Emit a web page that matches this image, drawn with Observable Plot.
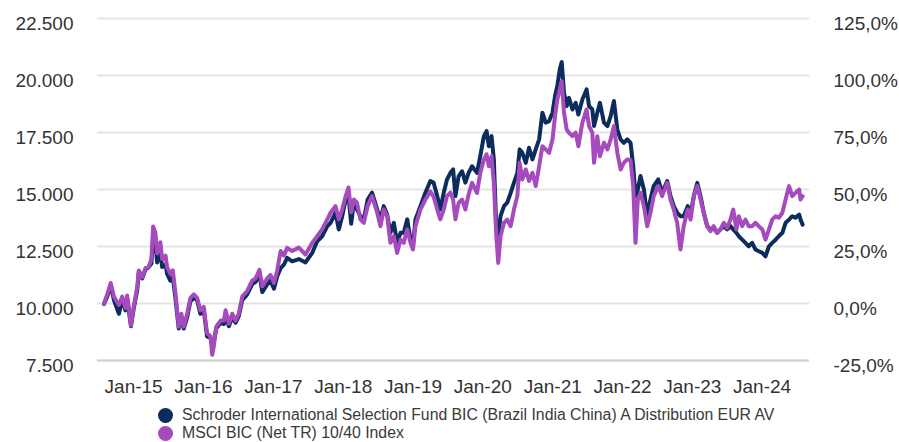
<!DOCTYPE html>
<html><head><meta charset="utf-8">
<script src="https://cdn.jsdelivr.net/npm/d3@7"></script>
<script src="https://cdn.jsdelivr.net/npm/@observablehq/plot@0.6"></script>
<style>
html,body{margin:0;padding:0;background:#fff;overflow:hidden;}
#chart svg{display:block;}
.legend{font-family:"Liberation Sans",Arial,sans-serif;font-size:15.8px;color:#3a3a3a;position:relative;height:42px;}
.row{position:absolute;left:158px;display:flex;align-items:center;height:18px;}
.dot{width:15px;height:15px;border-radius:50%;margin-right:9px;flex:none;}
</style></head><body>
<div id="chart"></div>
<div class="legend" id="legend"></div>
<script>
const seriesNames = ["Schroder International Selection Fund BIC (Brazil India China) A Distribution EUR AV", "MSCI BIC (Net TR) 10/40 Index"];
const seriesColors = ["#0b2c5c", "#a54bbe"];
const yTicks = [7500, 10000, 12500, 15000, 17500, 20000, 22500];
const xTickYears = [2015, 2016, 2017, 2018, 2019, 2020, 2021, 2022, 2023, 2024];

const dates = [
"2014-07-30","2014-08-16","2014-09-03","2014-09-20","2014-10-16","2014-11-02","2014-11-19","2014-11-28","2014-12-18","2015-01-02",
"2015-01-20","2015-01-28","2015-02-15","2015-03-04","2015-03-21","2015-04-04","2015-04-13","2015-04-25","2015-05-04","2015-05-21",
"2015-05-30","2015-06-17","2015-06-25","2015-07-12","2015-07-25","2015-08-08","2015-08-25","2015-09-08","2015-09-20","2015-10-08",
"2015-10-25","2015-11-12","2015-11-29","2015-12-16","2016-01-03","2016-01-20","2016-02-07","2016-02-16","2016-02-24","2016-03-08",
"2016-03-31","2016-04-17","2016-04-26","2016-05-13","2016-05-31","2016-06-17","2016-07-04","2016-07-22","2016-08-17","2016-09-12",
"2016-09-30","2016-10-20","2016-11-04","2016-11-30","2016-12-17","2017-01-04","2017-01-21","2017-02-08","2017-02-25","2017-03-14",
"2017-04-09","2017-05-14","2017-06-18","2017-07-23","2017-08-18","2017-09-13","2017-10-10","2017-10-27","2017-11-22","2017-12-09",
"2017-12-27","2018-01-14","2018-01-29","2018-02-12","2018-02-26","2018-03-14","2018-04-01","2018-04-19","2018-05-09","2018-06-01",
"2018-06-28","2018-07-15","2018-08-01","2018-08-19","2018-09-05","2018-09-23","2018-10-10","2018-10-28","2018-11-14","2018-12-02",
"2018-12-19","2019-01-01","2019-01-14","2019-02-09","2019-03-07","2019-04-02","2019-04-19","2019-05-08","2019-05-24","2019-06-11",
"2019-06-28","2019-07-16","2019-07-30","2019-08-11","2019-08-28","2019-09-15","2019-10-02","2019-10-19","2019-11-06","2019-12-02",
"2019-12-19","2020-01-07","2020-01-21","2020-02-02","2020-02-16","2020-02-28","2020-03-12","2020-03-22","2020-04-03","2020-04-21",
"2020-05-08","2020-05-26","2020-06-12","2020-06-30","2020-07-12","2020-07-26","2020-08-13","2020-08-30","2020-09-17","2020-10-04",
"2020-10-22","2020-11-08","2020-11-25","2020-12-13","2020-12-31","2021-01-13","2021-01-25","2021-02-07","2021-02-17","2021-03-01",
"2021-03-15","2021-03-27","2021-04-14","2021-05-01","2021-05-15","2021-06-05","2021-06-27","2021-07-10","2021-07-27","2021-08-05",
"2021-08-22","2021-09-05","2021-09-26","2021-10-14","2021-10-31","2021-11-17","2021-12-05","2021-12-22","2022-01-08","2022-01-26",
"2022-02-12","2022-02-26","2022-03-10","2022-03-22","2022-04-05","2022-04-23","2022-05-10","2022-05-27","2022-06-13","2022-07-07",
"2022-07-27","2022-08-23","2022-09-09","2022-09-26","2022-10-14","2022-10-31","2022-11-17","2022-12-08","2022-12-23","2023-01-09",
"2023-01-27","2023-02-13","2023-03-02","2023-03-20","2023-04-06","2023-04-23","2023-05-11","2023-05-28","2023-06-15","2023-07-02",
"2023-07-20","2023-08-03","2023-08-20","2023-09-01","2023-09-19","2023-10-06","2023-10-23","2023-11-10","2023-11-27","2023-12-15",
"2024-01-02","2024-01-19","2024-02-06","2024-02-23","2024-03-12","2024-03-28","2024-04-16","2024-05-03","2024-05-21","2024-06-07",
"2024-06-24","2024-07-13","2024-07-20","2024-07-31"
];

const schroder = [
9980,10300,10800,10150,9550,10150,9700,10250,9000,9800,
10600,11400,11100,11500,11600,11750,12900,12600,11800,12300,
11600,11700,11300,11000,11150,10200,8900,9400,8900,9400,
10100,10250,10150,9550,9700,8550,8500,8150,8300,8900,
9150,9100,9500,9000,9400,9150,9450,10150,10400,10850,
10950,11300,10500,10850,11000,10650,11200,11550,11700,12000,
11850,11950,11800,12220,12730,12950,13390,13540,13980,13250,
13830,14560,14710,13500,14450,14130,13830,13690,14560,14860,
14120,13690,14270,13900,13100,13540,12660,13100,13100,13690,
12800,12520,13690,14270,14860,15370,15300,14710,14120,14860,
15440,15730,15880,14710,15590,15800,15300,15730,16020,15730,
16460,17340,17560,16900,17340,16320,13240,12950,13830,14270,
14420,14850,15290,15730,16760,16610,16170,16830,16320,16760,
17200,18370,17930,18000,18370,19100,19540,20270,20590,19240,
18660,19020,18510,18800,18290,18950,19390,18660,18510,17780,
18370,18800,17930,17780,18220,18880,17630,17200,17050,17200,
17050,16020,14710,15000,15590,15000,13830,14560,15150,15440,
14850,15370,14710,14270,13980,13830,13830,14270,13900,14710,
15290,14710,13980,13390,13250,13320,13100,13250,13390,13250,
13390,13250,13100,12950,12800,12660,12510,12660,12370,12290,
12220,12070,12510,12660,12800,12950,13100,13540,13680,13830,
13760,13900,13680,13460
];

const msci = [
10000,10400,10900,10300,9930,10300,9800,10350,9050,9900,
10730,11450,11150,11550,11620,11950,13380,13100,12200,12680,
11950,12100,11600,11300,11450,10450,8980,9550,8980,9550,
10250,10400,10250,9700,9850,8700,8560,7750,8100,8980,
9250,9250,9700,9120,9550,9250,9550,10300,10550,11000,
11100,11480,10750,11100,11250,10900,11450,12300,12100,12440,
12300,12450,12150,12660,12950,13250,13690,13980,14270,13690,
14120,14710,15080,14000,14560,14420,13690,13540,14270,14710,
13980,13390,14120,13830,12660,12950,12220,12800,12660,13250,
12660,12370,13390,14120,14560,14910,14690,14120,13690,14120,
14710,14860,14560,13690,14420,14560,14120,14780,15290,14850,
15730,16320,16540,16020,16460,15290,12950,11780,12950,13540,
13680,13390,14120,14710,16170,15440,15880,15370,15730,15150,
16020,16900,16760,16610,17200,18220,18950,19390,19750,18370,
17630,17490,17340,17490,16900,17930,18510,17780,17490,16170,
17340,16460,17050,16760,17200,17780,16610,15880,16170,16320,
16300,15150,12660,14560,14850,14270,13390,13980,14710,15150,
14710,15290,14560,14120,13540,12370,13390,14120,13680,14710,
15150,14560,13980,13390,13170,13390,13100,13250,13540,13320,
13680,14120,13250,13830,13390,13680,13390,13390,13540,13390,
13250,12800,13250,13680,13830,13760,13980,14560,15150,14710,
14850,15000,14560,14710
];

const rows = [];
dates.forEach((d, i) => {
  rows.push({date: new Date(d), value: schroder[i], series: seriesNames[0]});
});
dates.forEach((d, i) => {
  rows.push({date: new Date(d), value: msci[i], series: seriesNames[1]});
});

const locale = d3.formatLocale({decimal: ",", thousands: ".", grouping: [3], currency: ["", "€"]});
const fmtLeft = locale.format(",.0f");
const fmtRight = v => ((v - 10000) / 100).toFixed(1).replace(".", ",") + "%";
const xTicks = xTickYears.map(y => new Date(y, 0, 1));
const fmtX = d => "Jan-" + String(d.getFullYear()).slice(2);

const font = '"Liberation Sans", Arial, sans-serif';

const chart = Plot.plot({
  width: 899,
  height: 400,
  marginLeft: 97,
  marginRight: 90,
  marginTop: 18,
  marginBottom: 40,
  style: {fontFamily: font, fontSize: "19px", color: "#333", background: "#fff"},
  x: {type: "utc", domain: [new Date("2014-06-26"), new Date("2024-09-05")]},
  y: {domain: [7500, 22500]},
  marks: [
    Plot.gridY(yTicks, {stroke: "#e4e4e4", strokeOpacity: 1, strokeWidth: 2}),
    Plot.ruleY([7500], {stroke: "#d2d2d2", strokeWidth: 2}),
    Plot.axisY(yTicks, {anchor: "left", tickSize: 0, tickPadding: 24, tickFormat: fmtLeft, dy: 5, fill: "#333", fontSize: 19, label: null}),
    Plot.axisY(yTicks, {anchor: "right", tickSize: 0, tickPadding: 24, tickFormat: fmtRight, dy: 5, fill: "#333", fontSize: 19, label: null}),
    Plot.axisX(xTicks, {anchor: "bottom", tickSize: 0, tickPadding: 19, tickFormat: fmtX, fill: "#333", fontSize: 19, label: null}),
    Plot.lineY(rows.filter(r => r.series === seriesNames[0]), {x: "date", y: "value", stroke: seriesColors[0], strokeWidth: 4, strokeLinejoin: "round"}),
    Plot.lineY(rows.filter(r => r.series === seriesNames[1]), {x: "date", y: "value", stroke: seriesColors[1], strokeWidth: 4, strokeLinejoin: "round"})
  ]
});
document.getElementById("chart").appendChild(chart);

const legend = document.getElementById("legend");
seriesNames.forEach((name, i) => {
  const row = document.createElement("div");
  row.className = "row";
  row.style.top = (6 + i * 18) + "px";
  const dot = document.createElement("span");
  dot.className = "dot";
  dot.style.background = seriesColors[i];
  const t = document.createElement("span");
  t.textContent = name;
  row.appendChild(dot);
  row.appendChild(t);
  legend.appendChild(row);
});
</script>
</body></html>
